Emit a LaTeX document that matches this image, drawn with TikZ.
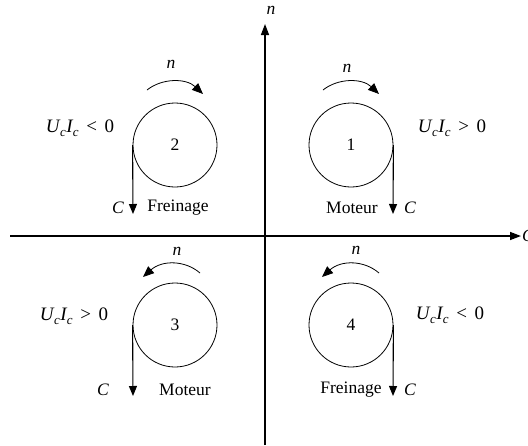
\documentclass[tikz,border=0pt]{standalone}
\usepackage{fontspec}
\setmainfont{Liberation Serif}
\usetikzlibrary{arrows.meta}
\newcommand\ucic[1]{{\fontsize{19}{22}\selectfont\textit{U}\kern-0.5pt\raisebox{-0.22em}{\fontsize{13}{13}\selectfont\textit{c}}\kern0.5pt\textit{I}\kern-0.5pt\raisebox{-0.22em}{\fontsize{13}{13}\selectfont\textit{c}}\hspace{0.4em}#1\hspace{0.4em}0}}
\begin{document}
\begin{tikzpicture}[x=1pt,y=-1pt,
  every node/.style={font=\fontsize{17.5}{20}\selectfont},
  wheel/.style={draw,circle,line width=0.8pt,minimum size=84pt,inner sep=0pt},
  axis/.style={line width=1.4pt,-{Triangle[length=11pt,width=8pt]}},
  torque/.style={line width=1.1pt,-{Triangle[length=10pt,width=8pt]}},
  rot/.style={line width=0.8pt,-{Triangle[length=11pt,width=9pt]}},
  lbl/.style={inner sep=0pt}]
\useasboundingbox (0,0) rectangle (528,445);
% axes
\coordinate (xs) at (10,236);
\coordinate (xe) at (521,236);
\coordinate (ys) at (265,445);
\coordinate (ye) at (265,24);
\draw[axis] (xs) -- (xe);
\draw[axis] (ys) -- (ye);
\node[lbl,anchor=west] (cx) at (522,236) {\textit{C}};
\node[lbl] (ny) at (271,10) {\textit{n}};
% wheels
\node[wheel] (w1) at (351,145) {1};
\node[wheel] (w2) at (175,145) {2};
\node[wheel] (w3) at (175,325) {3};
\node[wheel] (w4) at (351,325) {4};
% torque arrows
\coordinate (t1) at (393,214);
\coordinate (t2) at (133,214);
\coordinate (t3) at (133,396);
\coordinate (t4) at (393,396);
\draw[torque] (w1.east) -- (t1);
\draw[torque] (w2.west) -- (t2);
\draw[torque] (w3.west) -- (t3);
\draw[torque] (w4.east) -- (t4);
% torque labels
\node[lbl] (c1) at (410,208) {\textit{C}};
\node[lbl] (m1) at (352,208) {Moteur};
\node[lbl] (c2) at (118,208) {\textit{C}};
\node[lbl] (f2) at (178,208) {Freinage};
\node[lbl] (c3) at (103,390) {\textit{C}};
\node[lbl] (m3) at (185,390) {Moteur};
\node[lbl] (c4) at (410,390) {\textit{C}};
\node[lbl] (f4) at (351,390) {Freinage};
% power labels
\node[lbl] (p1) at (452,128) {\ucic{>}};
\node[lbl] (p2) at (80,128) {\ucic{<}};
\node[lbl] (p3) at (74,316) {\ucic{>}};
\node[lbl] (p4) at (450,315) {\ucic{<}};
% rotation arrows
\coordinate (r1s) at (323,90); \coordinate (r1e) at (379,94);
\coordinate (r2s) at (147,90); \coordinate (r2e) at (203,94);
\coordinate (r3s) at (200,273); \coordinate (r3e) at (143,277);
\coordinate (r4s) at (379,273); \coordinate (r4e) at (322,277);
\draw[rot] (r1s) .. controls (338,78) and (362,78) .. (r1e);
\draw[rot] (r2s) .. controls (162,78) and (186,78) .. (r2e);
\draw[rot] (r3s) .. controls (185,260) and (162,260) .. (r3e);
\draw[rot] (r4s) .. controls (364,260) and (341,260) .. (r4e);
\node[lbl] (n1) at (347,68) {\textit{n}};
\node[lbl] (n2) at (171,64) {\textit{n}};
\node[lbl] (n3) at (177,251) {\textit{n}};
\node[lbl] (n4) at (356,250) {\textit{n}};
\end{tikzpicture}
\end{document}
